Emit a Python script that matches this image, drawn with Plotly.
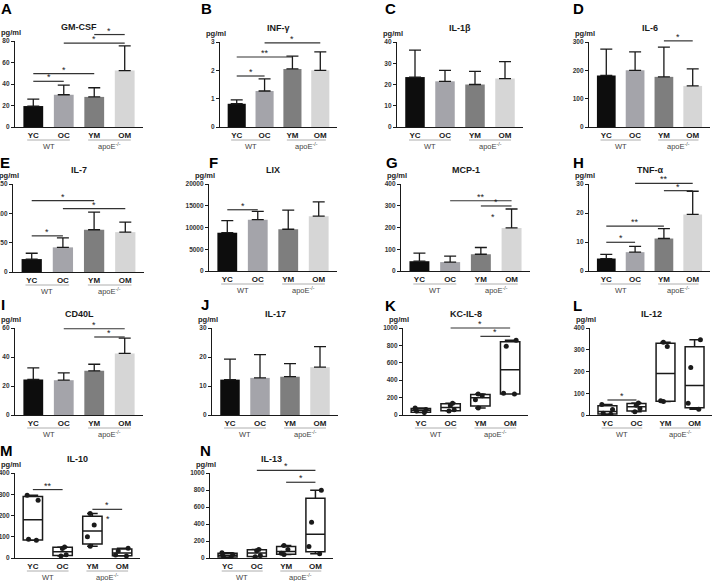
import numpy as np
import plotly.graph_objects as go

groups = ["YC", "OC", "YM", "OM"]
bar_colors = ["#0d0d0d", "#a4a4aa", "#7e7e7e", "#d6d6d6"]

# bar panels: group mean and top of the error bar (pg/ml)
gmcsf_mean = [19.5, 30.0, 28.0, 52.5]
gmcsf_err = [26.0, 39.0, 36.5, 75.5]
infg_mean = [0.82, 1.27, 2.05, 2.0]
infg_err = [0.96, 1.70, 2.50, 2.65]
il1b_mean = [23.5, 21.5, 20.0, 22.8]
il1b_err = [36.2, 26.6, 26.2, 30.8]
il6_mean = [182, 200, 177, 145]
il6_err = [275, 265, 282, 205]
il7_mean = [22, 42, 72, 68]
il7_err = [32, 58, 102, 85]
lix_mean = [8800, 11800, 9600, 12600]
lix_err = [11600, 13700, 14000, 15900]
mcp1_mean = [45, 41, 77, 198]
mcp1_err = [82, 68, 108, 285]
tnfa_mean = [4.3, 6.5, 11.2, 19.5]
tnfa_err = [5.7, 8.5, 14.6, 27.5]
cd40l_mean = [24.5, 24.0, 30.5, 42.5]
cd40l_err = [32.5, 29.0, 35.0, 53.0]
il17_mean = [12.2, 12.8, 13.2, 16.5]
il17_err = [19.3, 20.8, 17.7, 23.6]

# box panels: individual animals per group (pg/ml)
kc_points = [[28, 45, 62, 80], [45, 60, 110, 135], [80, 175, 220, 242], [240, 250, 790, 860]]
il12_points = [[3, 8, 25, 48], [15, 30, 45, 55], [62, 66, 315, 335], [26, 54, 218, 346]]
il10_points = [[84, 88, 272, 295], [10, 15, 45, 52], [55, 100, 155, 210], [10, 14, 33, 46]]
il13_points = [[10, 22, 40, 62], [15, 30, 85, 100], [40, 55, 100, 148], [51, 136, 420, 798]]

# significance brackets: (group i, group j, height, label)
gmcsf_sig = [(0, 1, 42.5, "*"), (0, 2, 49.6, "*"), (1, 3, 78, "*"), (2, 3, 86, "*")]
infg_sig = [(0, 1, 1.8, "*"), (0, 2, 2.47, "**"), (1, 3, 2.97, "*")]
il6_sig = [(2, 3, 304, "*")]
il7_sig = [(0, 1, 61.6, "*"), (0, 2, 121.5, "*"), (1, 3, 108, "*")]
lix_sig = [(0, 1, 14080, "*")]
mcp1_sig = [(1, 3, 323, "**"), (2, 3, 299, "*")]
tnfa_sig = [(0, 1, 9.9, "*"), (0, 2, 15.5, "**"), (1, 3, 30.2, "**"), (2, 3, 27.7, "*")]
cd40l_sig = [(1, 3, 59.5, "*"), (2, 3, 53.8, "*")]
kc_sig = [(1, 3, 1000, "*"), (2, 3, 904, "*")]
il12_sig = [(0, 1, 69, "*")]
il10_sig = [(0, 1, 322, "**"), (2, 3, 229, "*")]
il13_sig = [(1, 3, 1031, "*"), (2, 3, 891, "*")]
# single stars: (position, height)
mcp1_star = [(2.4, 247)]
il10_star = [(2.52, 182)]

W, H = 720, 581

panels = [
    dict(letter="A", title="GM-CSF", mean=gmcsf_mean, err=gmcsf_err, sig=gmcsf_sig,
         ticks=[0, 20, 40, 60, 80], box=(15, 143, 41, 127), lpos=(6, 8)),
    dict(letter="B", title="INF-γ", mean=infg_mean, err=infg_err, sig=infg_sig,
         ticks=[0, 1, 2, 3], box=(220, 337, 42, 127), lpos=(207, 8)),
    dict(letter="C", title="IL-1β", mean=il1b_mean, err=il1b_err, sig=[],
         ticks=[0, 10, 20, 30, 40], box=(397, 523, 42, 127), lpos=(391, 8)),
    dict(letter="D", title="IL-6", mean=il6_mean, err=il6_err, sig=il6_sig,
         ticks=[0, 100, 200, 300], box=(589, 710, 42, 127), lpos=(578, 8)),
    dict(letter="E", title="IL-7", mean=il7_mean, err=il7_err, sig=il7_sig,
         ticks=[0, 50, 100, 150], box=(13, 144, 184, 272), lpos=(5, 162)),
    dict(letter="F", title="LIX", mean=lix_mean, err=lix_err, sig=lix_sig,
         ticks=[0, 5000, 10000, 15000, 20000], box=(209, 337, 184, 271), lpos=(213, 162)),
    dict(letter="G", title="MCP-1", mean=mcp1_mean, err=mcp1_err, sig=mcp1_sig, star=mcp1_star,
         ticks=[0, 100, 200, 300, 400], box=(401, 530, 184, 271), lpos=(392, 162)),
    dict(letter="H", title="TNF-α", mean=tnfa_mean, err=tnfa_err, sig=tnfa_sig,
         ticks=[0, 10, 20, 30], box=(589, 710, 184, 271), lpos=(578, 162)),
    dict(letter="I", title="CD40L", mean=cd40l_mean, err=cd40l_err, sig=cd40l_sig,
         ticks=[0, 20, 40, 60], box=(15, 143, 328, 415), lpos=(3, 304)),
    dict(letter="J", title="IL-17", mean=il17_mean, err=il17_err, sig=[],
         ticks=[0, 10, 20, 30], box=(212, 338, 328, 415), lpos=(205, 304)),
    dict(letter="K", title="KC-IL-8", points=kc_points, sig=kc_sig,
         ticks=[0, 200, 400, 600, 800, 1000], box=(403, 528, 328, 415), lpos=(391, 305)),
    dict(letter="L", title="IL-12", points=il12_points, sig=il12_sig,
         ticks=[0, 100, 200, 300, 400], box=(590, 712, 328, 415), lpos=(577, 305)),
    dict(letter="M", title="IL-10", points=il10_points, sig=il10_sig, star=il10_star,
         ticks=[0, 100, 200, 300, 400], box=(15, 140, 473, 558), lpos=(6, 450)),
    dict(letter="N", title="IL-13", points=il13_points, sig=il13_sig,
         ticks=[0, 200, 400, 600, 800, 1000], box=(210, 333, 473, 558), lpos=(205, 450)),
]

FONT = "Liberation Sans, Arial, sans-serif"
INK = "#1a1a1a"


def fx(c):
    # category position -> fraction of the x domain
    return (c + 0.6) / 4.2


fig = go.Figure()
shapes = []
annotations = []

for k, p in enumerate(panels, start=1):
    sfx = "" if k == 1 else str(k)
    xa, ya = "x" + sfx, "y" + sfx
    x0, x1, ytop, yzero = p["box"]
    top = p["ticks"][-1]
    dom_h = yzero - ytop

    if "mean" in p:
        fig.add_trace(go.Bar(
            x=groups, y=p["mean"], width=0.65,
            marker=dict(color=bar_colors, line=dict(width=0)),
            error_y=dict(type="data", symmetric=False,
                         array=[e - m for m, e in zip(p["mean"], p["err"])],
                         arrayminus=[0] * 4, color=INK, thickness=1.3, width=6),
            xaxis=xa, yaxis=ya, showlegend=False, hoverinfo="skip"))
    else:
        pts = p["points"]
        q = [np.percentile(v, [25, 50, 75], method="weibull") for v in pts]
        fig.add_trace(go.Box(
            x=groups, q1=[a[0] for a in q], median=[a[1] for a in q], q3=[a[2] for a in q],
            lowerfence=[min(v) for v in pts], upperfence=[max(v) for v in pts],
            width=0.65, whiskerwidth=0.55, fillcolor="white", boxpoints=False,
            line=dict(color=INK, width=1.5),
            xaxis=xa, yaxis=ya, showlegend=False, hoverinfo="skip"))
        fig.add_trace(go.Box(
            x=[g for g, v in zip(groups, pts) for _ in v], y=[y for v in pts for y in v],
            boxpoints="all", jitter=0.7, pointpos=0, width=0.65,
            fillcolor="rgba(0,0,0,0)", line=dict(color="rgba(0,0,0,0)", width=0),
            marker=dict(color=INK, size=5),
            xaxis=xa, yaxis=ya, showlegend=False, hoverinfo="skip"))

    fig.update_layout({
        "xaxis" + sfx: dict(domain=[x0 / W, x1 / W], anchor=ya, range=[-0.6, 3.6],
                            showline=True, linecolor=INK, linewidth=1.2, ticks="",
                            showgrid=False, zeroline=False, automargin=False,
                            tickfont=dict(size=8, color=INK, weight="bold")),
        "yaxis" + sfx: dict(domain=[1 - yzero / H, 1 - ytop / H], anchor=xa, range=[0, top],
                            tickvals=p["ticks"], tickformat="d", ticks="outside", ticklen=3,
                            tickwidth=1.2, tickcolor=INK, showline=True, linecolor=INK,
                            linewidth=1.2, showgrid=False, zeroline=False, automargin=False,
                            tickfont=dict(size=6.5, color="#333", weight="bold")),
    })

    # panel letter, title, unit
    lx, ly = p["lpos"]
    annotations.append(dict(text=p["letter"], xref="paper", yref="paper", x=lx / W, y=1 - ly / H,
                            xanchor="center", yanchor="middle", showarrow=False,
                            font=dict(size=15, color="#000", weight="bold")))
    annotations.append(dict(text=p["title"], xref=xa + " domain", yref="paper", x=0.5,
                            y=1 - (ytop - 14) / H, xanchor="center", yanchor="middle",
                            showarrow=False, font=dict(size=9, color=INK, weight="bold")))
    annotations.append(dict(text="pg/ml", xref=xa + " domain", yref=ya + " domain", x=0, y=1,
                            xanchor="center", yanchor="middle", xshift=-4, yshift=9,
                            showarrow=False, font=dict(size=7.5, color=INK, weight="bold")))

    # genotype grouping below the axis
    for (a, b, lab) in [(-0.2, 1.2, "WT"), (1.8, 3.2, "apoE<sup>-/-</sup>")]:
        shapes.append(dict(type="line", xref=xa + " domain", yref=ya + " domain",
                           x0=fx(a), x1=fx(b), y0=-13 / dom_h, y1=-13 / dom_h,
                           line=dict(color="#9a9a9a", width=0.8)))
        annotations.append(dict(text=lab, xref=xa + " domain", yref=ya + " domain",
                                x=fx((a + b) / 2), y=0, yshift=-19, xanchor="center",
                                yanchor="middle", showarrow=False,
                                font=dict(size=7.5, color="#444")))

    # significance brackets
    for (i, j, h, lab) in p["sig"]:
        shapes.append(dict(type="line", xref=xa + " domain", yref=ya + " domain",
                           x0=fx(i), x1=fx(j), y0=h / top, y1=h / top,
                           line=dict(color="#333", width=1.2)))
        annotations.append(dict(text=lab, xref=xa + " domain", yref=ya + " domain",
                                x=fx((i + j) / 2), y=h / top, xanchor="center",
                                yanchor="bottom", yshift=-3,
                                showarrow=False, font=dict(size=9, color=INK)))
    for (c, h) in p.get("star", []):
        annotations.append(dict(text="*", xref=xa + " domain", yref=ya + " domain",
                                x=fx(c), y=h / top, xanchor="center", yanchor="middle",
                                showarrow=False, font=dict(size=9, color=INK)))

fig.update_layout(
    width=W, height=H,
    margin=dict(l=0, r=0, t=0, b=0),
    paper_bgcolor="white", plot_bgcolor="white",
    font=dict(family=FONT, color=INK),
    boxmode="overlay",
    shapes=shapes, annotations=annotations,
)

# the page's default body margin would push the figure 8px in and cut the bottom row
fig.write_html("out.html", config={"displayModeBar": False},
               post_script="document.body.style.margin='0';")
